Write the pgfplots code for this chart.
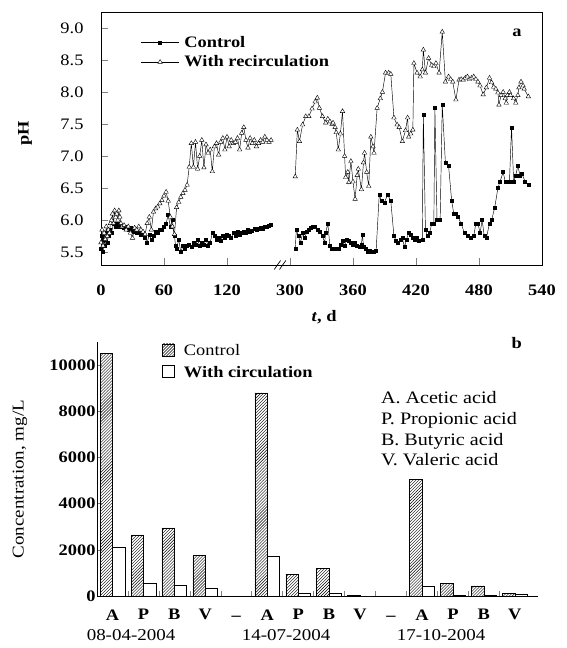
\documentclass[border=0pt]{standalone}
\usepackage{fontspec}
\setmainfont{Liberation Serif}[FakeStretch=1.15]
\usepackage{pgfplots}
\pgfplotsset{compat=1.18}
\usepackage{pgfplotstable}
\usetikzlibrary{patterns}
\newcommand{\ft}{\fontsize{16bp}{19bp}\selectfont}
\newcommand{\fb}{\fontsize{16.5bp}{20.7bp}\selectfont}
\newcommand{\fc}{\fontsize{17.5bp}{20.7bp}\selectfont}
\newcommand{\dash}{\vphantom{A}--}
\pgfplotsset{boxlegend/.style={legend image code/.code={\draw[##1] (0bp,-5bp) rectangle (12bp,7bp);}}}

% pH, control (t in days)
\pgfplotstableread{
t pH
0 5.55
1 5.75
2 5.5
3 5.7
4 5.6
5 5.8
6 5.65
7 5.75
8 5.85
10 5.8
12 5.95
14 5.9
16 5.95
18 5.9
20 5.92
22 5.88
24 5.9
26 5.85
28 5.88
30 5.82
32 5.85
34 5.8
36 5.82
38 5.78
40 5.8
42 5.72
44 5.65
46 5.78
48 5.7
50 5.75
52 5.82
54 5.8
56 5.85
58 5.85
60 5.9
62 5.95
64 6.08
66 5.9
68 6.0
70 5.75
71 5.6
72 5.55
74 5.7
76 5.5
78 5.6
80 5.55
82 5.6
84 5.62
86 5.58
88 5.65
90 5.62
92 5.7
94 5.6
96 5.65
98 5.62
100 5.7
102 5.6
104 5.65
106 5.8
108 5.75
110 5.7
112 5.72
114 5.68
116 5.75
118 5.72
120 5.78
122 5.75
124 5.72
126 5.8
128 5.76
130 5.82
132 5.78
134 5.8
136 5.82
138 5.8
140 5.85
142 5.82
144 5.84
146 5.86
148 5.85
150 5.86
152 5.88
154 5.86
156 5.9
158 5.9
160 5.92
162 5.93
200 nan
305 5.55
306 5.85
308 5.75
310 5.65
312 5.8
314 5.72
316 5.82
318 5.85
320 5.88
322 5.9
324 5.9
326 5.85
328 5.82
331 5.75
333 5.65
334 5.8
336 5.95
338 5.6
340 5.55
342 5.55
344 5.55
346 5.55
348 5.62
350 5.68
352 5.6
354 5.7
356 5.68
358 5.65
360 5.62
362 5.65
364 5.6
366 5.58
368 5.62
369 5.78
370 5.58
372 5.55
374 5.5
376 5.52
378 5.5
380 5.5
382 5.52
385 6.4
387 6.3
390 6.28
393 6.4
396 6.3
399 5.75
401 5.68
403 5.65
405 5.7
407 5.72
409 5.58
411 5.7
413 5.8
415 5.78
417 5.72
419 5.7
421 5.72
423 5.68
426 5.7
427 7.65
429 5.85
431 5.75
433 5.8
435 5.95
437 5.95
438 7.75
440 6.0
443 6.0
445 7.8
448 6.9
451 6.85
454 6.3
456 6.1
458 6.1
460 6.05
463 5.95
466 5.8
469 5.75
472 5.72
475 5.75
477 5.95
479 5.95
481 5.8
483 6.0
485 5.75
487 5.72
490 5.95
492 6.0
495 6.2
498 6.5
500 6.6
503 6.75
505 6.6
507 6.6
509 6.6
511 7.45
513 6.6
515 6.7
517 6.85
519 6.7
521 6.72
524 6.6
527 6.55
}\ctrl

% pH, with recirculation
\pgfplotstableread{
t pH
0 5.65
1 5.85
2 5.6
3 5.8
4 5.7
5 5.9
6 5.75
7 5.85
8 5.8
9 5.95
10 6.0
11 6.1
12 5.95
13 6.15
14 6.05
15 6.1
16 6.0
17 6.15
18 6.05
19 5.95
20 5.9
22 5.92
24 5.85
26 5.9
28 5.8
30 5.72
32 5.88
34 5.85
36 5.9
38 5.85
40 5.82
42 5.78
44 5.95
46 6.05
48 5.85
50 6.13
52 6.18
54 6.21
56 6.26
58 6.31
60 6.38
62 6.44
64 6.3
66 6.05
68 5.9
70 5.78
72 6.2
74 6.28
76 6.36
78 6.42
80 6.47
82 6.55
84 6.83
86 7.2
88 6.83
90 7.22
92 6.8
94 7.0
96 7.25
98 6.82
100 7.18
102 7.05
104 7.1
106 6.76
108 7.15
110 7.2
112 7.02
114 7.22
116 7.28
118 7.1
120 7.3
122 7.15
124 7.25
126 7.2
128 7.22
130 7.28
132 7.1
134 7.36
136 7.45
138 7.25
140 7.13
142 7.28
144 7.2
146 7.25
148 7.15
150 7.2
152 7.25
154 7.22
156 7.3
158 7.25
160 7.22
162 7.25
200 nan
305 6.68
307 7.41
309 7.23
312 7.49
315 7.62
318 7.62
321 7.74
324 7.85
326 7.91
328 7.75
331 7.62
334 7.52
336 7.58
338 7.54
340 7.5
341 7.52
343 7.45
344 7.37
346 7.1
348 7.35
350 7.7
352 7.0
353 6.67
355 6.75
356 6.59
358 6.92
360 6.6
362 6.33
364 6.7
365 6.8
368 6.48
370 6.9
371 7.05
373 6.75
375 6.53
377 7.3
379 7.15
380 7.05
383 7.75
386 7.9
388 8.0
391 8.3
394 8.3
396 8.28
399 7.6
402 7.49
404 7.45
407 7.23
410 7.4
412 7.6
413 7.3
415 7.35
417 7.41
418 8.45
421 8.3
424 8.24
426 8.35
427 8.66
429 8.3
432 8.53
435 8.42
437 8.4
439 8.45
442 8.3
445 8.94
448 8.16
451 8.24
453 8.2
455 8.16
458 7.88
461 8.19
463 8.2
465 8.19
467 8.22
469 8.24
471 8.2
473 8.22
475 8.24
477 8.2
479 8.16
481 8.1
484 7.96
487 8.07
490 8.22
492 8.15
494 8.08
496 8.05
498 7.99
499 7.8
501 7.95
503 8.0
505 7.9
506 7.83
507 7.95
509 8.0
510 7.95
513 7.9
515 7.83
517 7.95
518 8.07
520 8.16
522 8.1
523 8.05
527 7.93
}\recirc

\begin{document}
\begin{tikzpicture}
\useasboundingbox (0,0) rectangle (567bp,648bp);

% ---------------- panel a ----------------
\begin{axis}[
  at={(101bp,383bp)}, anchor=south west,
  scale only axis, width=441bp, height=253bp,
  xmin=0, xmax=420, ymin=5.3, ymax=9.25,
  clip=false,
  axis line style={line width=0.8pt},
  xtick={0,60,120,180,240,300,360,420},
  xticklabels={0,60,120,300,360,420,480,540},
  ytick={5.5,6,6.5,7,7.5,8,8.5,9},
  yticklabels={5.5,6.0,6.5,7.0,7.5,8.0,8.5,9.0},
  xtick pos=bottom, ytick pos=left,
  tick align=inside, major tick length=7bp,
  tick style={line width=0.6pt},
  x tick label style={font=\bfseries\ft},
  y tick label style={font=\ft},
  xticklabel shift=16bp,
  yticklabel shift=14bp,
  unbounded coords=jump,
  legend style={at={(0.09,0.913)}, anchor=north west, draw=none, fill=none,
    font=\bfseries\ft, row sep=3bp, inner sep=0pt, cells={anchor=west},
    /tikz/every odd column/.append style={column sep=3bp}},
  legend image code/.code={\draw[mark repeat=2,mark phase=2,#1] plot coordinates {(0bp,0bp) (19bp,0bp) (38bp,0bp)};},
]
\addplot[black, line width=0.45pt, mark=square*, mark size=1.5bp]
  table[x expr={\thisrow{t}>250 ? \thisrow{t}-120 : \thisrow{t}}, y=pH] {\ctrl};
\addplot[black, line width=0.45pt, mark=triangle*, mark size=2.6bp, mark options={fill=white, line width=0.4pt}]
  table[x expr={\thisrow{t}>250 ? \thisrow{t}-120 : \thisrow{t}}, y=pH] {\recirc};
\legend{Control, With recirculation}
\draw[line width=0.7pt] (axis cs:165,5.23) -- (axis cs:171,5.37);
\draw[line width=0.7pt] (axis cs:170,5.23) -- (axis cs:176,5.37);
\node[font=\ft] at (rel axis cs:0.506,-0.205) {\textbf{\textit{t}}\textbf{, d}};
\node[font=\ft, rotate=90] at (rel axis cs:-0.172,0.52) {\textbf{pH}};
\node[font=\bfseries\ft] at (rel axis cs:0.943,0.917) {a};
\end{axis}

% ---------------- panel b ----------------
\begin{axis}[
  at={(97bp,52bp)}, anchor=south west,
  scale only axis, width=441bp, height=254bp,
  xmin=-0.5, xmax=13.75, ymin=0, ymax=11000,
  clip=false,
  axis lines*=left,
  axis line style={line width=0.8pt},
  ybar=0pt, bar width=0.4,
  scaled y ticks=false,
  ytick={0,2000,4000,6000,8000,10000},
  yticklabels={0,2000,4000,6000,8000,10000},
  xtick={0.5,1.5,2.5,3.5,4.5,5.5,6.5,7.5,8.5,9.5,10.5,11.5,12.5},
  xticklabels={},
  extra x ticks={0,1,2,3,4,5,6,7,8,9,10,11,12,13},
  extra x tick labels={A,P,B,V,\dash,A,P,B,V,\dash,A,P,B,V},
  extra x tick style={major tick length=0pt},
  tick align=inside, major tick length=5bp,
  tick style={line width=0.5pt},
  x tick label style={font=\bfseries\ft},
  y tick label style={font=\bfseries\ft},
  xticklabel shift=10bp,
  yticklabel shift=-2bp,
  legend style={at={(0.148,0.998)}, anchor=north west, draw=none, fill=none,
    font=\ft, row sep=5bp, inner sep=0pt, cells={anchor=west},
    /tikz/every odd column/.append style={column sep=7bp}},
]
\addplot[draw=black, line width=0.5pt, pattern=north east lines, boxlegend]
  coordinates {(0,10500) (1,2650) (2,2950) (3,1750) (5,8800) (6,950) (7,1200) (8,30) (10,5050) (11,560) (12,440) (13,110)};
\addplot[draw=black, line width=0.5pt, fill=white, boxlegend]
  coordinates {(0,2100) (1,550) (2,480) (3,350) (5,1700) (6,140) (7,140) (8,0) (10,430) (11,20) (12,20) (13,80)};
\legend{Control, \textbf{With circulation}}
\node[font=\fb] at (rel axis cs:0.0772,-0.154) {08-04-2004};
\node[font=\fb] at (rel axis cs:0.4288,-0.154) {14-07-2004};
\node[font=\fb] at (rel axis cs:0.7804,-0.154) {17-10-2004};
\node[font=\fb, rotate=90] at (rel axis cs:-0.1746,0.46) {Concentration, mg/L};
\node[anchor=north west, align=left, font=\fc] at (rel axis cs:0.636,0.818)
  {A. Acetic acid\\P. Propionic acid\\B. Butyric acid\\V. Valeric acid};
\node[font=\bfseries\ft] at (rel axis cs:0.952,0.996) {b};
\end{axis}
\end{tikzpicture}
\end{document}
